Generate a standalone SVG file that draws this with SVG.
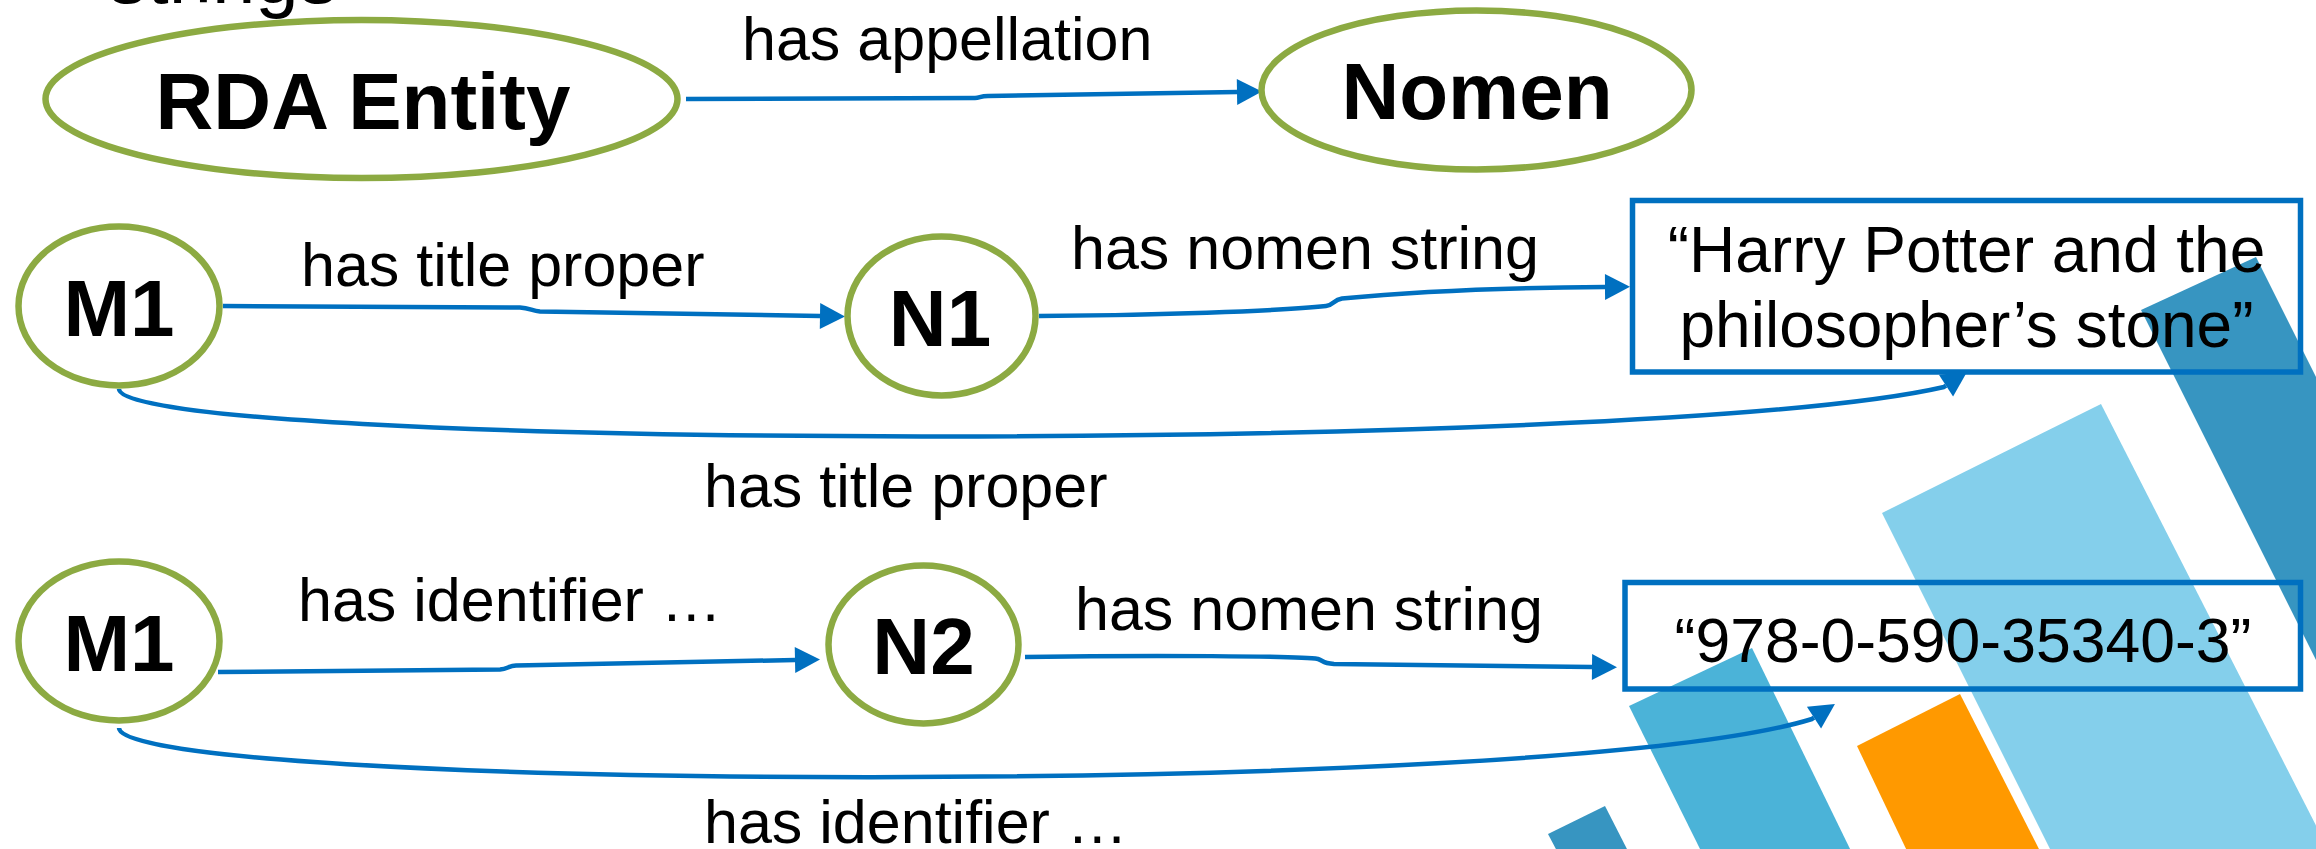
<svg xmlns="http://www.w3.org/2000/svg" width="2316" height="849" viewBox="0 0 2316 849">
<style>
  text { font-family: "Liberation Sans", Arial, sans-serif; fill: #000; }
  .lbl { font-size: 61px; }
  .ell { fill: #fff; stroke: #8CAA42; stroke-width: 6.5; }
  .ntxt { font-size: 80px; font-weight: bold; text-anchor: middle; }
  .box { fill: none; stroke: #0070C0; stroke-width: 5.5; }
  .btxt { font-size: 64px; text-anchor: middle; }
  .conn { fill: none; stroke: #0070C0; stroke-width: 4.5; marker-end: url(#arrow); }
</style>
<defs>
  <marker id="arrow" markerUnits="userSpaceOnUse" markerWidth="25" markerHeight="26" refX="0" refY="13" orient="auto" overflow="visible">
    <path d="M0,0 L25,13 L0,26 z" fill="#0070C0"/>
  </marker>
</defs>

<g id="decoration">
  <polygon points="2141,310 2256,257 2440,625 2325,678" fill="#3795C1"/>
  <polygon points="1882,513 2101,404 2330,853 2052,853" fill="#84CFEB"/>
  <polygon points="1629,706 1752,648 1852,853 1702,853" fill="#4BB3D8"/>
  <polygon points="1857,746 1960,694 2041,853 1908,853" fill="#FF9900"/>
  <polygon points="1548,834 1605,806 1629,853 1558,853" fill="#3795C1"/>
</g>

<text x="108" y="3" style="font-size:78px">strings</text>

<g id="connectors">
  <path class="conn" d="M686,99 L975,98 C980,98 980,96 988,96 L1237,92"/>
  <path class="conn" d="M223,306 L520,307.5 C530,308 532,311 540,311.5 L820,316"/>
  <path class="conn" d="M1039,316 C1150,315.5 1280,311 1326,306 C1334,305 1333,300 1342,298.5 C1420,291 1520,287.5 1605,287"/>
  <path class="conn" d="M119,389 C119,450 1650,455 1944,387 l2,-1.3"/>
  <path class="conn" d="M218,672 L500,669.5 C508,669 508,666 516,665.5 L795,660"/>
  <path class="conn" d="M1025,657 C1150,655 1300,656 1318,659 C1324,661 1322,663 1334,664 L1592,667"/>
  <path class="conn" d="M119,728 C119,790 1550,800 1812,719 l2,-1.3"/>
</g>

<g id="edge-labels">
  <text class="lbl" x="742" y="60">has appellation</text>
  <text class="lbl" x="301" y="286">has title proper</text>
  <text class="lbl" x="1071" y="269">has nomen string</text>
  <text class="lbl" x="704" y="507">has title proper</text>
  <text class="lbl" x="298" y="621">has identifier …</text>
  <text class="lbl" x="1075" y="630">has nomen string</text>
  <text class="lbl" x="704" y="843">has identifier …</text>
</g>

<g id="node-rda-entity">
  <ellipse class="ell" cx="361.5" cy="99" rx="316" ry="79"/>
  <text class="ntxt" x="363" y="129">RDA Entity</text>
</g>
<g id="node-nomen">
  <ellipse class="ell" cx="1476.5" cy="90" rx="215" ry="79.5"/>
  <text class="ntxt" x="1477" y="119">Nomen</text>
</g>
<g id="node-m1-a">
  <ellipse class="ell" cx="119" cy="306" rx="100.5" ry="79.5"/>
  <text class="ntxt" x="119" y="336">M1</text>
</g>
<g id="node-n1">
  <ellipse class="ell" cx="941.5" cy="316" rx="94" ry="79.5"/>
  <text class="ntxt" x="940" y="346">N1</text>
</g>
<g id="node-title-string">
  <rect class="box" x="1632.5" y="200.5" width="668" height="171.5"/>
  <text class="btxt" x="1966.5" y="272">“Harry Potter and the</text>
  <text class="btxt" x="1966.5" y="347">philosopher’s stone”</text>
</g>
<g id="node-m1-b">
  <ellipse class="ell" cx="119" cy="641" rx="100.5" ry="79.5"/>
  <text class="ntxt" x="119" y="671">M1</text>
</g>
<g id="node-n2">
  <ellipse class="ell" cx="923.5" cy="644.5" rx="95" ry="79"/>
  <text class="ntxt" x="923.5" y="674">N2</text>
</g>
<g id="node-isbn-string">
  <rect class="box" x="1625" y="582.5" width="675.5" height="106.5"/>
  <text class="btxt" x="1963" y="662" style="font-size:62.5px">“978-0-590-35340-3”</text>
</g>
</svg>
